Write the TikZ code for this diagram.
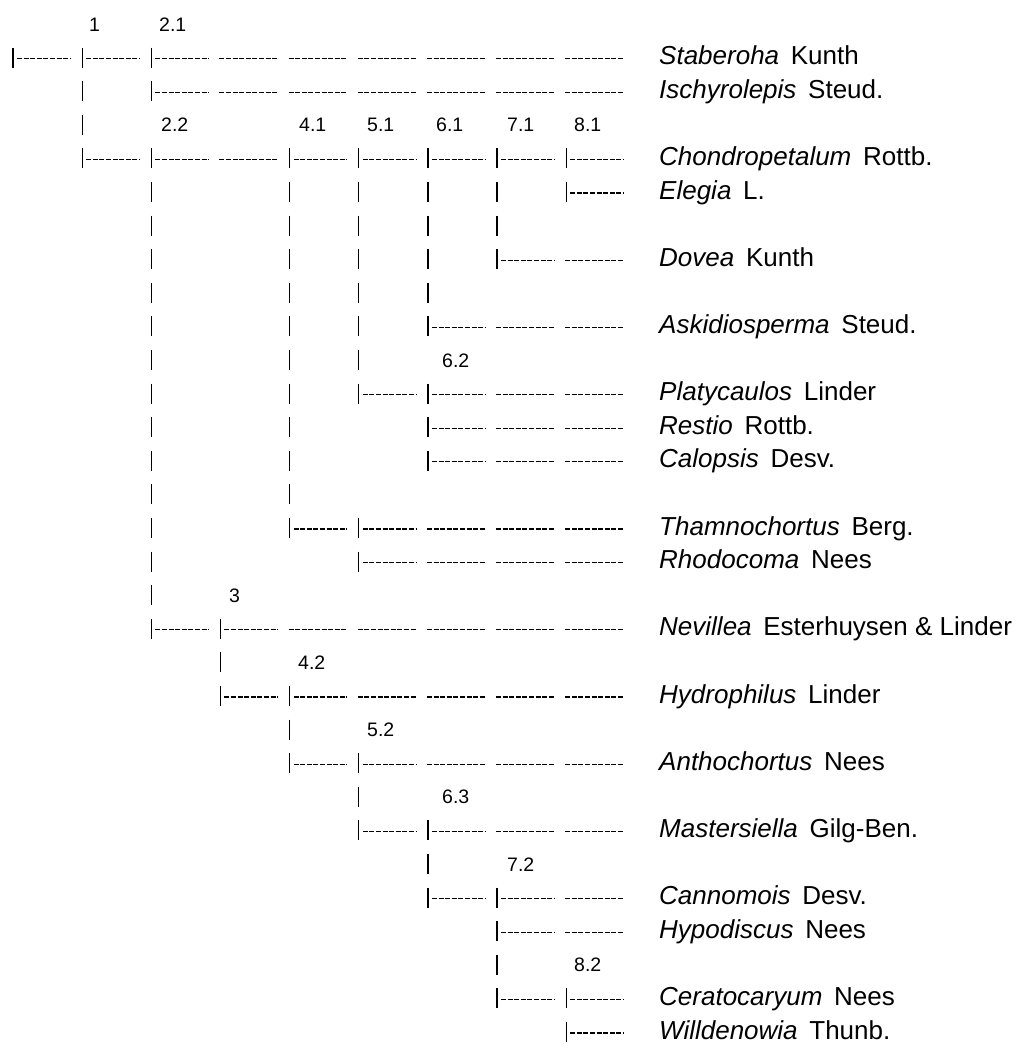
\documentclass[tikz,border=0pt]{standalone}
\usepackage{fontspec}
\setmainfont{Liberation Sans}
\newcommand\RX[1]{13+69.15*#1}
\newcommand\RY[1]{25+33.6*#1}
\newcommand\barseg[2]{\draw[vbar] ({\RX{#1}},{\RY{#2}-11}) -- ++(0,20); \draw[seg] ({\RX{#1}+4},{\RY{#2}}) -- ++(53,0);}
\newcommand\baronly[2]{\draw[vbar] ({\RX{#1}},{\RY{#2}-11}) -- ++(0,20);}
\newcommand\contseg[2]{\draw[seg] ({\RX{#1}-1},{\RY{#2}}) -- ++(58,0);}
\newcommand\taxname[2]{\textit{#1}\hspace{0.45em}#2}
\begin{document}
\begin{tikzpicture}[x=1pt,y=-1pt,
  seg/.style={line width=1.2pt, dash pattern=on 5pt off 1.6pt},
  vbar/.style={line width=1.3pt},
  taxon/.style={anchor=base west, inner sep=0pt, font=\fontsize{26}{28}\selectfont},
  clade/.style={anchor=base west, inner sep=0pt, font=\fontsize{19.5}{21}\selectfont}]
\useasboundingbox (0,0) rectangle (1026,1044);
% row 1
\barseg{0}{1}\barseg{1}{1}\barseg{2}{1}
\foreach \c in {3,...,8}{\contseg{\c}{1}}
% row 2
\baronly{1}{2}\barseg{2}{2}
\foreach \c in {3,...,8}{\contseg{\c}{2}}
% row 3
\baronly{1}{3}
% row 4
\barseg{1}{4}\barseg{2}{4}\contseg{3}{4}
\foreach \c in {4,...,8}{\barseg{\c}{4}}
% row 5
\foreach \c in {2,4,5,6,7}{\baronly{\c}{5}}\barseg{8}{5}
% row 6
\foreach \c in {2,4,5,6,7}{\baronly{\c}{6}}
% row 7
\foreach \c in {2,4,5,6}{\baronly{\c}{7}}\barseg{7}{7}\contseg{8}{7}
% row 8
\foreach \c in {2,4,5,6}{\baronly{\c}{8}}
% row 9
\foreach \c in {2,4,5}{\baronly{\c}{9}}\barseg{6}{9}\contseg{7}{9}\contseg{8}{9}
% row 10
\foreach \c in {2,4,5}{\baronly{\c}{10}}
% row 11
\baronly{2}{11}\baronly{4}{11}\barseg{5}{11}\barseg{6}{11}\contseg{7}{11}\contseg{8}{11}
% rows 12,13
\foreach \r in {12,13}{\baronly{2}{\r}\baronly{4}{\r}\barseg{6}{\r}\contseg{7}{\r}\contseg{8}{\r}}
% row 14
\baronly{2}{14}\baronly{4}{14}
% row 15
\baronly{2}{15}\barseg{4}{15}\barseg{5}{15}
\foreach \c in {6,7,8}{\contseg{\c}{15}}
% row 16
\baronly{2}{16}\barseg{5}{16}
\foreach \c in {6,7,8}{\contseg{\c}{16}}
% row 17
\baronly{2}{17}
% row 18
\barseg{2}{18}\barseg{3}{18}
\foreach \c in {4,...,8}{\contseg{\c}{18}}
% row 19
\baronly{3}{19}
% row 20
\barseg{3}{20}\barseg{4}{20}
\foreach \c in {5,...,8}{\contseg{\c}{20}}
% row 21
\baronly{4}{21}
% row 22
\barseg{4}{22}\barseg{5}{22}
\foreach \c in {6,7,8}{\contseg{\c}{22}}
% row 23
\baronly{5}{23}
% row 24
\barseg{5}{24}\barseg{6}{24}\contseg{7}{24}\contseg{8}{24}
% row 25
\baronly{6}{25}
% row 26
\barseg{6}{26}\barseg{7}{26}\contseg{8}{26}
% row 27
\barseg{7}{27}\contseg{8}{27}
% row 28
\baronly{7}{28}
% row 29
\barseg{7}{29}\barseg{8}{29}
% row 30
\barseg{8}{30}
% clade labels
\node[clade] (l1)  at (89,{\RY{0}+6}) {1};
\node[clade] (l21) at (159,{\RY{0}+6}) {2.1};
\node[clade] (l22) at (161,{\RY{3}+6}) {2.2};
\node[clade] (l41) at (299,{\RY{3}+6}) {4.1};
\node[clade] (l51) at (367,{\RY{3}+6}) {5.1};
\node[clade] (l61) at (436,{\RY{3}+6}) {6.1};
\node[clade] (l71) at (507,{\RY{3}+6}) {7.1};
\node[clade] (l81) at (574,{\RY{3}+6}) {8.1};
\node[clade] (l62) at (442,{\RY{10}+6}) {6.2};
\node[clade] (l3)  at (229,{\RY{17}+6}) {3};
\node[clade] (l42) at (298,{\RY{19}+6}) {4.2};
\node[clade] (l52) at (367,{\RY{21}+6}) {5.2};
\node[clade] (l63) at (442,{\RY{23}+6}) {6.3};
\node[clade] (l72) at (507,{\RY{25}+6}) {7.2};
\node[clade] (l82) at (574,{\RY{28}+6}) {8.2};
% taxa
\node[taxon] (t1)  at (659,{\RY{1}+6})  {\taxname{Staberoha}{Kunth}};
\node[taxon] (t2)  at (659,{\RY{2}+6})  {\taxname{Ischyrolepis}{Steud.}};
\node[taxon] (t4)  at (659,{\RY{4}+6})  {\taxname{Chondropetalum}{Rottb.}};
\node[taxon] (t5)  at (659,{\RY{5}+6})  {\taxname{Elegia}{L.}};
\node[taxon] (t7)  at (659,{\RY{7}+6})  {\taxname{Dovea}{Kunth}};
\node[taxon] (t9)  at (659,{\RY{9}+6})  {\taxname{Askidiosperma}{Steud.}};
\node[taxon] (t11) at (659,{\RY{11}+6}) {\taxname{Platycaulos}{Linder}};
\node[taxon] (t12) at (659,{\RY{12}+6}) {\taxname{Restio}{Rottb.}};
\node[taxon] (t13) at (659,{\RY{13}+6}) {\taxname{Calopsis}{Desv.}};
\node[taxon] (t15) at (659,{\RY{15}+6}) {\taxname{Thamnochortus}{Berg.}};
\node[taxon] (t16) at (659,{\RY{16}+6}) {\taxname{Rhodocoma}{Nees}};
\node[taxon] (t18) at (659,{\RY{18}+6}) {\taxname{Nevillea}{Esterhuysen \& Linder}};
\node[taxon] (t20) at (659,{\RY{20}+6}) {\taxname{Hydrophilus}{Linder}};
\node[taxon] (t22) at (659,{\RY{22}+6}) {\taxname{Anthochortus}{Nees}};
\node[taxon] (t24) at (659,{\RY{24}+6}) {\taxname{Mastersiella}{Gilg-Ben.}};
\node[taxon] (t26) at (659,{\RY{26}+6}) {\taxname{Cannomois}{Desv.}};
\node[taxon] (t27) at (659,{\RY{27}+6}) {\taxname{Hypodiscus}{Nees}};
\node[taxon] (t29) at (659,{\RY{29}+6}) {\taxname{Ceratocaryum}{Nees}};
\node[taxon] (t30) at (659,{\RY{30}+6}) {\taxname{Willdenowia}{Thunb.}};
\end{tikzpicture}
\end{document}
